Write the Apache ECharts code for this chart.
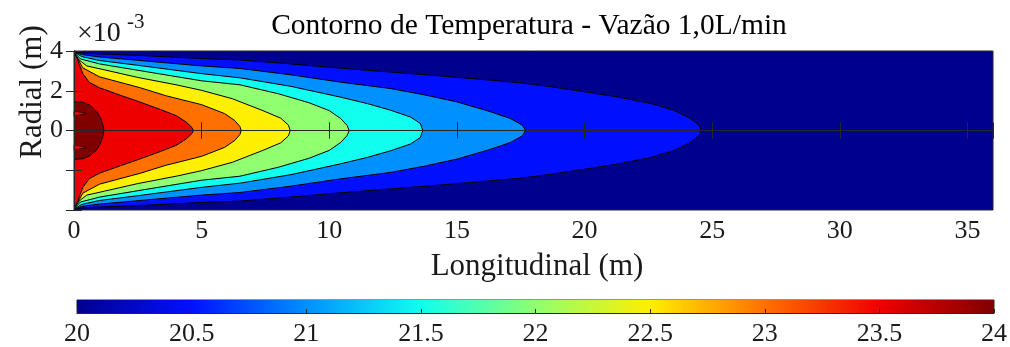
<!DOCTYPE html>
<html>
<head>
<meta charset="utf-8">
<script src="https://cdn.jsdelivr.net/npm/echarts@6/dist/echarts.min.js"></script>
<style>
  html, body { margin: 0; padding: 0; background: #fff; }
  #chart { width: 1010px; height: 347px; }
</style>
</head>
<body>
<div id="chart"></div>
<script>
// níveis das isotermas (°C) e cores jet em 20, 20.5, ..., 24
const levels = [20.5, 21, 21.5, 22, 22.5, 23, 23.5, 24];
const colorbarRange = [20, 24];
const jetColors = ['#00008F', '#0010FF', '#0090FF', '#10FFEF', '#90FF70', '#FFEF00', '#FF7000', '#EF0000', '#800000'];

// isotermas, metade superior: [longitudinal (m), radial (x1e-3 m)]
const iso205 = [[0, 3.97], [0.3, 3.9], [1, 3.85], [2.5, 3.78], [5, 3.62], [6.5, 3.55], [8.5, 3.35], [10.4, 3.14], [12.4, 2.94], [14, 2.78], [15.7, 2.6], [17.5, 2.4], [18.7, 2.2], [20, 1.95], [21.3, 1.69], [22.6, 1.36], [23.5, 1.02], [24.15, 0.6], [24.48, 0.27], [24.58, 0]];
const iso21 = [[0, 3.96], [0.3, 3.82], [1, 3.7], [2.5, 3.53], [5, 3.25], [6.5, 3.12], [8.5, 2.8], [10.4, 2.44], [12.4, 2.11], [13.7, 1.8], [15, 1.44], [16.3, 0.95], [17.1, 0.6], [17.56, 0.27], [17.69, 0]];
const iso215 = [[0, 3.95], [0.3, 3.72], [1, 3.52], [2.5, 3.28], [5, 2.86], [6.5, 2.65], [8.5, 2.22], [10.4, 1.69], [11.5, 1.35], [12.4, 1.02], [13.18, 0.68], [13.57, 0.35], [13.66, 0]];
const iso22 = [[0, 3.94], [0.25, 3.6], [1, 3.35], [2.5, 3.03], [5, 2.5], [6.5, 2.3], [8, 1.85], [9.2, 1.4], [10, 1.0], [10.45, 0.6], [10.7, 0.25], [10.78, 0]];
const iso225 = [[0, 3.93], [0.2, 3.55], [0.5, 3.25], [1.2, 3.05], [2.5, 2.67], [4, 2.3], [5, 2.02], [6.2, 1.6], [7.4, 1.0], [8.1, 0.62], [8.4, 0.27], [8.47, 0]];
const iso23 = [[0, 3.9], [0.15, 3.6], [0.35, 3.15], [1, 2.7], [2.6, 2.15], [3.6, 1.75], [5, 1.3], [5.9, 0.85], [6.3, 0.5], [6.5, 0.2], [6.55, 0]];
const iso235 = [[0, 3.88], [0.1, 3.7], [0.2, 3.35], [0.35, 2.85], [0.6, 2.42], [1, 2.15], [1.8, 1.78], [2.5, 1.47], [3.4, 1.05], [4, 0.75], [4.4, 0.42], [4.62, 0.15], [4.68, 0]];
const iso24 = [[0, 1.45], [0.35, 1.42], [0.65, 1.25], [0.9, 0.95], [1.05, 0.6], [1.14, 0.25], [1.17, 0]];
const notch24 = [[0, 0.98], [0.5, 0.86], [0, 0.72]];

const isolines = [iso205, iso21, iso215, iso22, iso225, iso23, iso235, iso24];

const FONT = '"Liberation Serif", "Times New Roman", serif';
const AX = '#262626';

const chart = echarts.init(document.getElementById('chart'), null, { renderer: 'canvas' });

function contourItem(params, api) {
  const i = api.value(0);
  const pts = isolines[i].map(p => api.coord(p));
  pts.push(api.coord([0, 0]));
  return {
    type: 'polygon',
    shape: { points: pts },
    style: { fill: jetColors[i + 1], stroke: '#000', lineWidth: 1 }
  };
}

function notchItem(params, api) {
  return {
    type: 'polygon',
    shape: { points: notch24.map(p => api.coord(p)) },
    style: { fill: jetColors[7], stroke: '#000', lineWidth: 0.6 }
  };
}

function colorbarItem(params, api) {
  const a = api.coord([api.value(0), 1]);
  const b = api.coord([api.value(1), 0]);
  const stops = jetColors.map((c, i) => ({ offset: i / (jetColors.length - 1), color: c }));
  return {
    type: 'rect',
    shape: { x: a[0], y: a[1], width: b[0] - a[0], height: b[1] - a[1] },
    style: { fill: new echarts.graphic.LinearGradient(0, 0, 1, 0, stops) }
  };
}

function xAx(grid, pos, labels) {
  return {
    type: 'value', gridIndex: grid, position: pos, min: 0, max: 36, interval: 5, z: 10,
    axisLine: { show: true, lineStyle: { color: AX, width: 1 } },
    axisTick: { show: true, inside: true, length: 8, lineStyle: { color: AX } },
    axisLabel: { show: labels, fontFamily: FONT, fontSize: 26, color: '#1a1a1a', margin: 8, showMaxLabel: false },
    splitLine: { show: false }
  };
}

function yAx(grid, pos, labels, inverse) {
  return {
    type: 'value', gridIndex: grid, position: pos, min: 0, max: 4, interval: 2, inverse: inverse, z: 10,
    axisLine: { show: true, lineStyle: { color: AX, width: 1 } },
    axisTick: { show: true, inside: true, length: 8, lineStyle: { color: AX } },
    axisLabel: { show: labels, fontFamily: FONT, fontSize: 26, color: '#1a1a1a', margin: 11 },
    splitLine: { show: false }
  };
}

const option = {
  animation: false,
  backgroundColor: '#fff',
  grid: [
    { left: 74, top: 51, width: 919, height: 79.5, show: true, backgroundColor: jetColors[0], borderColor: AX, borderWidth: 1 },
    { left: 74, top: 130.5, width: 919, height: 79.5, show: true, backgroundColor: jetColors[0], borderColor: AX, borderWidth: 1 },
    { left: 77, top: 300, width: 919, height: 13, show: true, borderColor: AX, borderWidth: 1 }
  ],
  xAxis: [
    xAx(0, 'bottom', false),
    xAx(0, 'top', false),
    xAx(1, 'top', false),
    xAx(1, 'bottom', true),
    {
      type: 'value', gridIndex: 2, position: 'bottom', min: 20, max: 24, interval: 0.5, z: 10,
      axisLine: { show: true, lineStyle: { color: AX, width: 1 } },
      axisTick: { show: true, inside: true, length: 4, lineStyle: { color: AX } },
      axisLabel: { fontFamily: FONT, fontSize: 26, color: '#1a1a1a', margin: 8 },
      splitLine: { show: false }
    }
  ],
  yAxis: [
    yAx(0, 'left', true, false),
    yAx(0, 'right', false, false),
    yAx(1, 'left', false, true),
    yAx(1, 'right', false, true),
    { type: 'value', gridIndex: 2, min: 0, max: 1, show: false }
  ],
  series: [
    {
      type: 'custom', xAxisIndex: 0, yAxisIndex: 0, silent: true, clip: true,
      renderItem: contourItem, data: levels.map((v, i) => [i, 0])
    },
    {
      type: 'custom', xAxisIndex: 3, yAxisIndex: 2, silent: true, clip: true,
      renderItem: contourItem, data: levels.map((v, i) => [i, 0])
    },
    { type: 'custom', xAxisIndex: 0, yAxisIndex: 0, silent: true, renderItem: notchItem, data: [[0, 0]] },
    { type: 'custom', xAxisIndex: 3, yAxisIndex: 2, silent: true, renderItem: notchItem, data: [[0, 0]] },
    {
      type: 'custom', xAxisIndex: 4, yAxisIndex: 4, silent: true,
      renderItem: colorbarItem, data: [colorbarRange]
    }
  ],
  graphic: [
    { type: 'text', x: 529, y: 26, style: { text: 'Contorno de Temperatura - Vazão 1,0L/min', fontFamily: FONT, fontSize: 29.5, fill: '#000', align: 'center', verticalAlign: 'middle' } },
    { type: 'text', x: 77, y: 34, style: { text: '×10', fontFamily: FONT, fontSize: 28, fill: '#1a1a1a', align: 'left', verticalAlign: 'middle' } },
    { type: 'text', x: 127, y: 22, style: { text: '-3', fontFamily: FONT, fontSize: 21, fill: '#1a1a1a', align: 'left', verticalAlign: 'middle' } },
    { type: 'text', x: 537, y: 267, style: { text: 'Longitudinal (m)', fontFamily: FONT, fontSize: 31, fill: '#1a1a1a', align: 'center', verticalAlign: 'middle' } },
    { type: 'text', x: 33, y: 92, rotation: Math.PI / 2, style: { text: 'Radial (m)', fontFamily: FONT, fontSize: 31, fill: '#1a1a1a', align: 'center', verticalAlign: 'middle' } }
  ]
};

chart.setOption(option);
</script>
</body>
</html>
